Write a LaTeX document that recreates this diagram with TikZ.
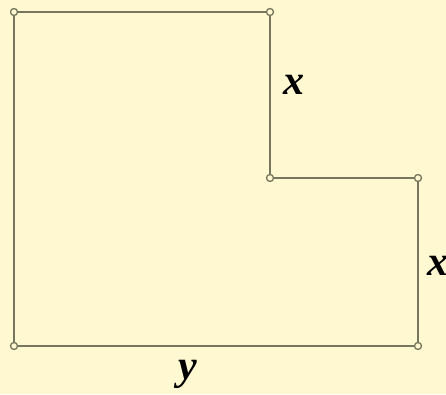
\documentclass[tikz,border=0pt]{standalone}
\usepackage{fontspec}
\setmainfont{Liberation Serif}
\definecolor{bg}{HTML}{FFF8D0}
\definecolor{ln}{HTML}{76765E}
\begin{document}
\begin{tikzpicture}[x=1pt,y=1pt,
  edge/.style={draw=ln,line width=2.6pt},
  vtx/.style={circle,draw=ln,fill=bg,line width=1.3pt,inner sep=0pt,minimum size=7pt},
  lbl/.style={font=\fontsize{42}{42}\selectfont\bfseries\itshape,inner sep=0pt,text=black}]
\fill[bg] (0,0) rectangle (446,394);
\useasboundingbox (0,0) rectangle (446,394);
\coordinate (a) at (14,382);
\coordinate (b) at (270,382);
\coordinate (c) at (270,216);
\coordinate (d) at (418,216);
\coordinate (e) at (418,48);
\coordinate (f) at (14,48);
\draw[edge] (a) -- (b) -- (c) -- (d) -- (e) -- (f) -- cycle;
\foreach \p in {a,b,c,d,e,f} \node[vtx] at (\p) {};
\node[lbl] (lx1) at (294,309) {x};
\node[lbl] (lx2) at (438,128) {x};
\node[lbl] (ly) at (188,20) {y};
\end{tikzpicture}
\end{document}
